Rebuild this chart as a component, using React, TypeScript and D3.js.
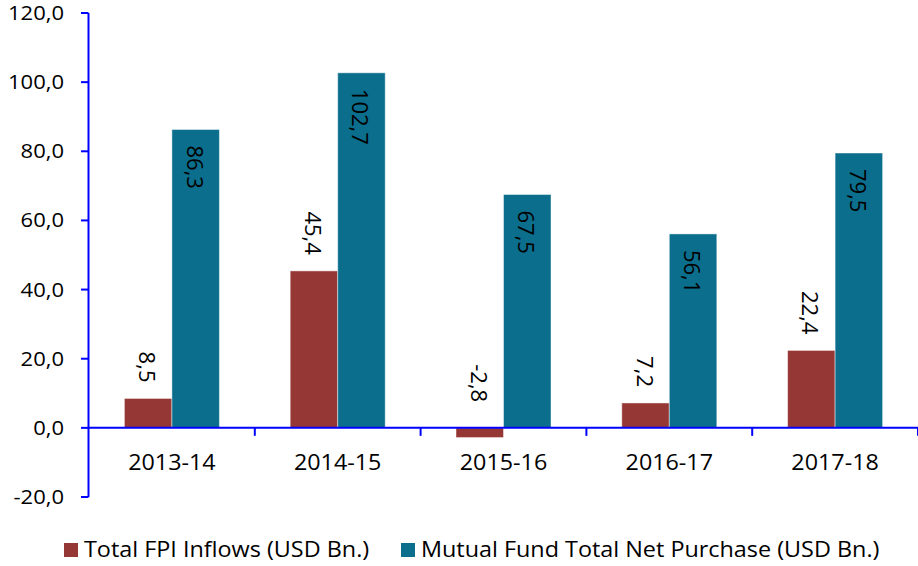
import React from "react";
import * as d3 from "d3";

const categories = ["2013-14", "2014-15", "2015-16", "2016-17", "2017-18"];
const seriesNames = ["Total FPI Inflows (USD Bn.)", "Mutual Fund Total Net Purchase (USD Bn.)"];
const fpiValues = [8.5, 45.4, -2.8, 7.2, 22.4];
const mfValues = [86.3, 102.7, 67.5, 56.1, 79.5];
const yTicks = [-20, 0, 20, 40, 60, 80, 100, 120];

const W = 918;
const H = 566;
const FONT = "'Open Sans', sans-serif";
const COLORS = ["#953735", "#0B6E8C"];
const AXIS = "#0000FF";

const fmt = (v: number) => v.toFixed(1).replace(".", ",");

export default function App() {
  const x0 = d3.scaleBand<string>().domain(categories).range([89, 918]).padding(0);
  const x1 = d3
    .scaleBand<string>()
    .domain(seriesNames)
    .range([0, x0.bandwidth()])
    .paddingInner(0)
    .paddingOuter(0.745);
  const y = d3.scaleLinear().domain([-20, 120]).range([497, 13]);
  const series = [fpiValues, mfValues];

  return (
    <svg
      width={W}
      height={H}
      style={{ position: "absolute", left: 0, top: 0, background: "#fff" }}
      fontFamily={FONT}
    >
      {/* bars */}
      {series.map((vals, si) =>
        vals.map((v, i) => {
          const xb = (x0(categories[i]) as number) + (x1(seriesNames[si]) as number);
          const y0 = y(0);
          const yv = y(v);
          return (
            <rect
              key={`b${si}-${i}`}
              x={xb}
              y={Math.min(y0, yv)}
              width={x1.bandwidth()}
              height={Math.abs(yv - y0)}
              fill={COLORS[si]}
              stroke="rgba(255,255,255,0.45)"
              strokeWidth={1}
            />
          );
        })
      )}
      {/* data labels */}
      {series.map((vals, si) =>
        vals.map((v, i) => {
          const cx = (x0(categories[i]) as number) + (x1(seriesNames[si]) as number) + x1.bandwidth() / 2;
          let ty: number;
          let anchor: "start" | "end";
          if (si === 1) {
            ty = y(v) + 16;
            anchor = "start";
          } else {
            ty = y(Math.abs(v)) - 16;
            anchor = "end";
          }
          return (
            <text
              key={`l${si}-${i}`}
              transform={`translate(${cx},${ty}) rotate(90)`}
              textAnchor={anchor}
              dominantBaseline="central"
              fontSize={22}
              fill="#000"
            >
              {fmt(v)}
            </text>
          );
        })
      )}
      {/* y axis */}
      <line x1={88.5} x2={88.5} y1={y(120)} y2={y(-20)} stroke={AXIS} strokeWidth={2} />
      {yTicks.map((t) => (
        <g key={`yt${t}`}>
          <line x1={81} x2={88.5} y1={y(t)} y2={y(t)} stroke={AXIS} strokeWidth={2} />
          <text
            transform={`translate(64,${y(t) + 7}) scale(1.1,1)`}
            textAnchor="end"
            fontSize={20}
            fill="#000"
          >
            {fmt(t)}
          </text>
        </g>
      ))}
      {/* x axis */}
      <line x1={88.5} x2={918} y1={y(0)} y2={y(0)} stroke={AXIS} strokeWidth={2} />
      {categories.map((c, i) => {
        const xs = (x0(c) as number) + x0.bandwidth();
        return (
          <line key={`xt${i}`} x1={xs} x2={xs} y1={y(0)} y2={y(0) + 8} stroke={AXIS} strokeWidth={2} />
        );
      })}
      {categories.map((c) => (
        <text
          key={`xl${c}`}
          transform={`translate(${(x0(c) as number) + x0.bandwidth() / 2},470) scale(1.06,1)`}
          textAnchor="middle"
          fontSize={22}
          fill="#000"
        >
          {c}
        </text>
      ))}
      {/* legend */}
      {[
        { x: 64, tx: 84 },
        { x: 401, tx: 421 },
      ].map((p, i) => (
        <g key={`lg${i}`}>
          <rect x={p.x} y={543} width={14} height={14} fill={COLORS[i]} />
          <text transform={`translate(${p.tx},557) scale(1.063,1)`} fontSize={22} fill="#000">
            {seriesNames[i]}
          </text>
        </g>
      ))}
    </svg>
  );
}
